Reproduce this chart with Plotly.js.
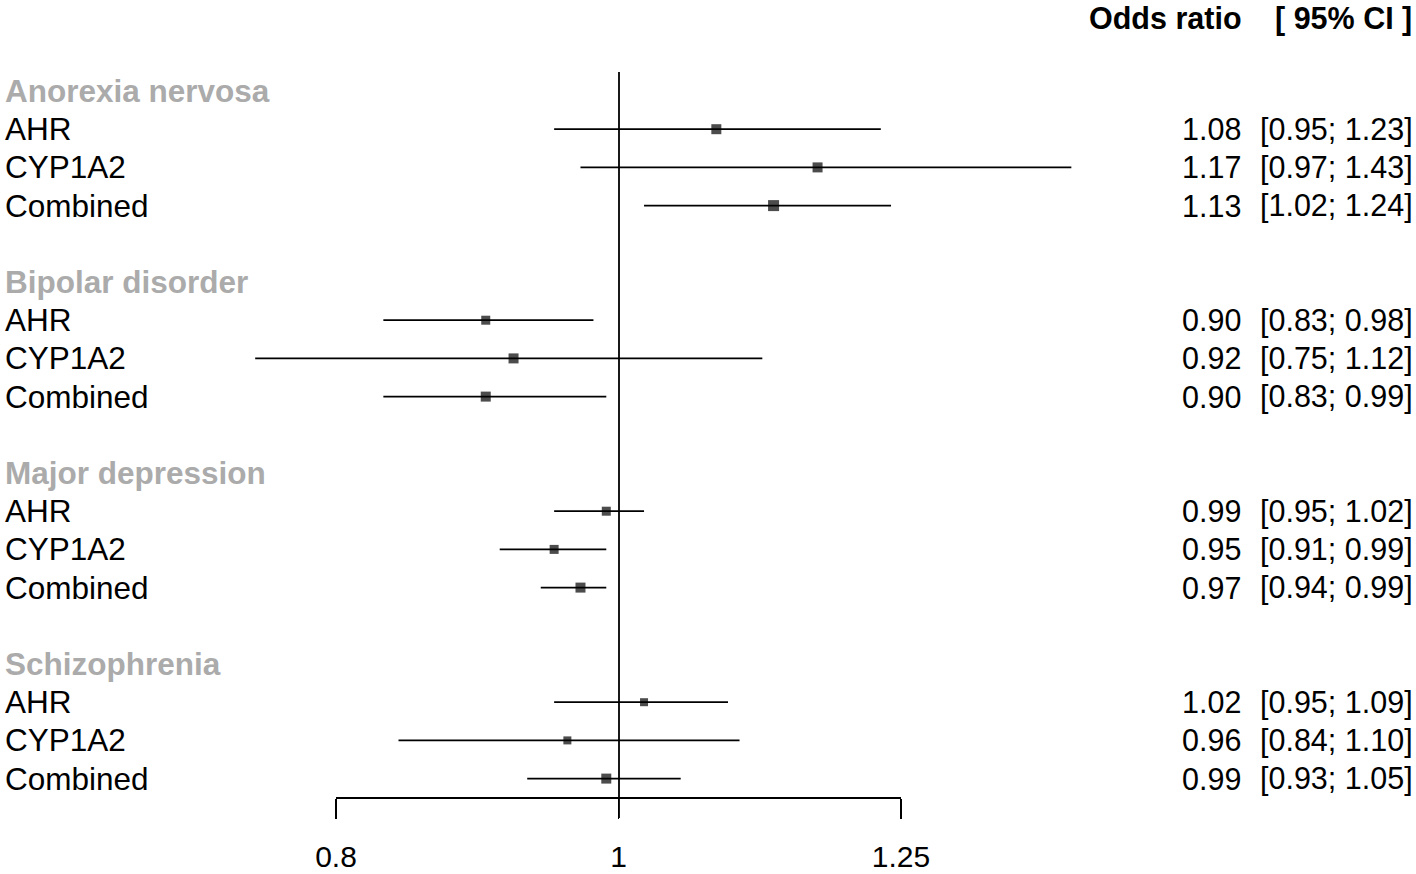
<!DOCTYPE html>
<html>
<head>
<meta charset="utf-8">
<script src="https://cdn.plot.ly/plotly-3.0.1.min.js"></script>
<style>html,body{margin:0;padding:0;background:#fff;}#chart{width:1416px;height:874px;}</style>
</head>
<body>
<div id="chart"></div>
<script>
// ---- data ----
var groups = ["Anorexia nervosa", "Bipolar disorder", "Major depression", "Schizophrenia"];
var genes = ["AHR", "CYP1A2", "Combined"];
var orValues = [1.08, 1.17, 1.13, 0.90, 0.92, 0.90, 0.99, 0.95, 0.97, 1.02, 0.96, 0.99];
var ciLower  = [0.95, 0.97, 1.02, 0.83, 0.75, 0.83, 0.95, 0.91, 0.94, 0.95, 0.84, 0.93];
var ciUpper  = [1.23, 1.43, 1.24, 0.98, 1.12, 0.99, 1.02, 0.99, 0.99, 1.09, 1.10, 1.05];
var orText   = ["1.08", "1.17", "1.13", "0.90", "0.92", "0.90", "0.99", "0.95", "0.97", "1.02", "0.96", "0.99"];
var ciText   = ["[0.95; 1.23]", "[0.97; 1.43]", "[1.02; 1.24]", "[0.83; 0.98]", "[0.75; 1.12]", "[0.83; 0.99]",
                "[0.95; 1.02]", "[0.91; 0.99]", "[0.94; 0.99]", "[0.95; 1.09]", "[0.84; 1.10]", "[0.93; 1.05]"];
var tickVals = [0.8, 1, 1.25];
var tickText = ["0.8", "1", "1.25"];

// ---- style ----
var squareSize = [10, 10, 11, 9, 10, 10, 9, 9, 10, 8, 8, 10];
var W = 1416, H = 874;
var FONT = "Liberation Sans, Arial, sans-serif";
var rowTop = 91, rowStep = 38.2;      // pixel layout of rows
var xCenterPx = 619, pxPerDecade = 2912;

// rows: header at 5*g, genes at 5*g+1..3
var rows = [];
for (var g = 0; g < groups.length; g++) for (var k = 0; k < genes.length; k++) rows.push(5 * g + 1 + k);

var traces = [];
// reference line at OR = 1
traces.push({
  x: [1, 1], y: [(72 - rowTop) / rowStep, (818 - rowTop) / rowStep],
  mode: "lines", line: {color: "#000", width: 1.8}, hoverinfo: "skip", showlegend: false
});
// estimates with CI
traces.push({
  x: orValues, y: rows, mode: "markers", type: "scatter",
  marker: {symbol: "square", size: squareSize, color: "#000", line: {width: 0}},
  error_x: {type: "data", symmetric: false,
    array: orValues.map(function (v, i) { return ciUpper[i] - v; }),
    arrayminus: orValues.map(function (v, i) { return v - ciLower[i]; }),
    width: 0, thickness: 1.8, color: "#000"},
  showlegend: false, cliponaxis: false
});
// dummy trace for the visible axis
traces.push({x: [1], y: [0], xaxis: "x2", yaxis: "y", mode: "markers",
  marker: {opacity: 0}, hoverinfo: "skip", showlegend: false});

var annotations = [];
for (var g = 0; g < groups.length; g++) {
  annotations.push({xref: "paper", yref: "y", x: 3 / W, y: 5 * g, xanchor: "left", yanchor: "middle",
    text: "<b>" + groups[g] + "</b>", showarrow: false, font: {family: FONT, size: 31.5, color: "#ABABAB"}});
  for (var k = 0; k < genes.length; k++) {
    annotations.push({xref: "paper", yref: "y", x: 3 / W, y: 5 * g + 1 + k, xanchor: "left", yanchor: "middle",
      text: genes[k], showarrow: false, font: {family: FONT, size: 31.5, color: "#000"}});
  }
}
for (var i = 0; i < orValues.length; i++) {
  annotations.push({xref: "paper", yref: "y", x: 1243 / W, y: rows[i], xanchor: "right", yanchor: "middle",
    text: orText[i], showarrow: false, font: {family: FONT, size: 30.5, color: "#000"}});
  annotations.push({xref: "paper", yref: "y", x: 1415 / W, y: rows[i], xanchor: "right", yanchor: "middle",
    text: ciText[i], showarrow: false, font: {family: FONT, size: 30.5, color: "#000"}});
}
annotations.push({xref: "paper", yref: "paper", x: 1243 / W, y: 1, xanchor: "right", yanchor: "top",
  borderpad: 0, text: "<b>Odds ratio</b>", showarrow: false, font: {family: FONT, size: 30.5, color: "#000"}});
annotations.push({xref: "paper", yref: "paper", x: 1413 / W, y: 1, xanchor: "right", yanchor: "top",
  borderpad: 0, text: "<b>[ 95% CI ]</b>", showarrow: false, font: {family: FONT, size: 30.5, color: "#000"}});

var layout = {
  width: W, height: H, margin: {l: 0, r: 0, t: 0, b: 0},
  paper_bgcolor: "#fff", plot_bgcolor: "rgba(0,0,0,0)",
  xaxis: {type: "log", range: [-xCenterPx / pxPerDecade, (W - xCenterPx) / pxPerDecade],
    visible: false, fixedrange: true},
  xaxis2: {type: "log", domain: [336 / W, 901 / W], anchor: "free", position: 1 - 797 / H,
    range: [Math.log10(0.8), Math.log10(1.25)], tickvals: tickVals, ticktext: tickText,
    ticks: "outside", ticklen: 20, tickwidth: 1.8, tickcolor: "#000", ticklabelstandoff: 12,
    showline: true, linecolor: "#000", linewidth: 1.8, showgrid: false, zeroline: false,
    tickfont: {family: FONT, size: 30, color: "#000"}, fixedrange: true},
  yaxis: {range: [(H - rowTop) / rowStep, -rowTop / rowStep], visible: false, fixedrange: true},
  annotations: annotations, showlegend: false
};

Plotly.newPlot("chart", traces, layout, {displayModeBar: false, staticPlot: true});
</script>
</body>
</html>
